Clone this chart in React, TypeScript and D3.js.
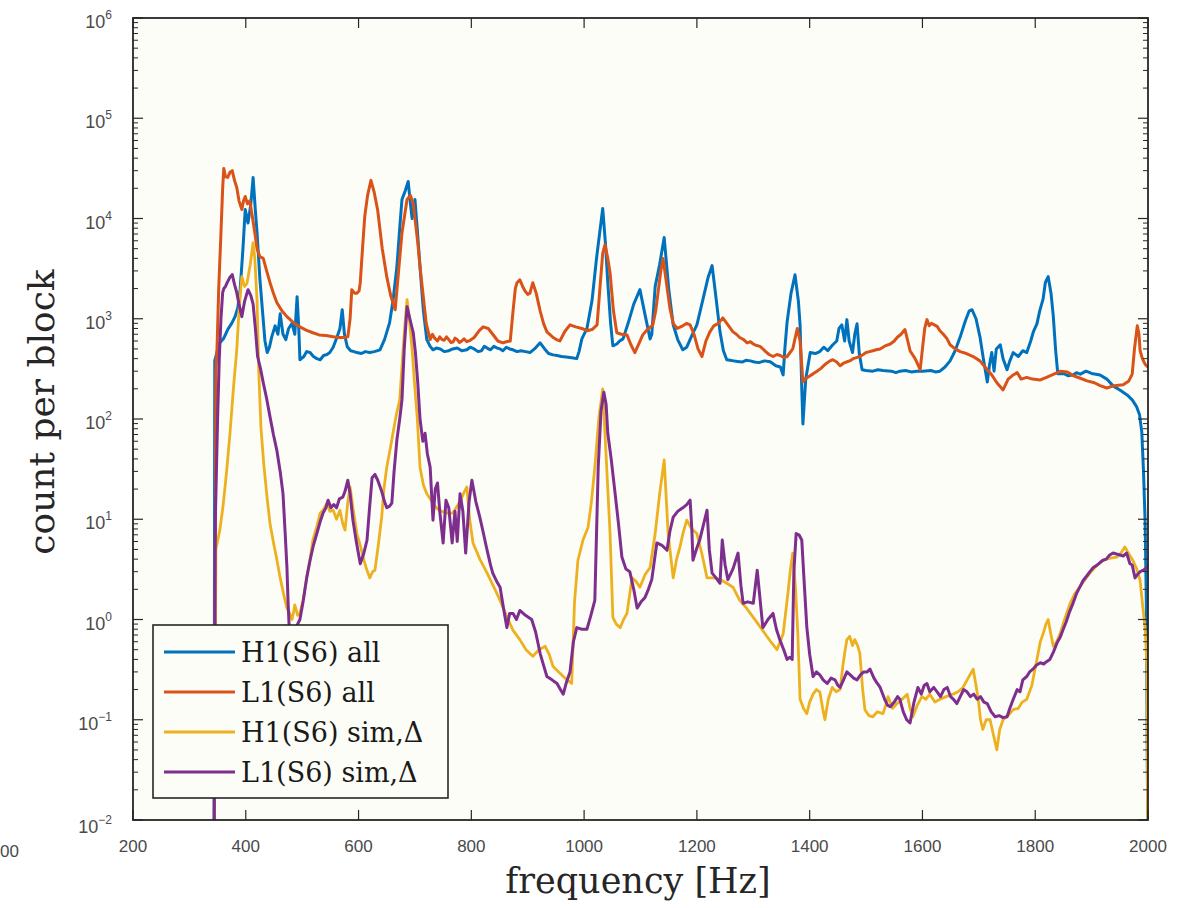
import React from "react";
import * as d3 from "d3";

// Count-per-block spectra, [frequency Hz, count]
const h1All: [number, number][] = [
  [343.6, 0.001], [345, 380], [350, 490], [354, 575], [361, 640], [368, 780], [375, 900], [381, 1050], [386, 1300], [390, 1950], [395, 5000], [399, 12300], [404, 9000], [409, 14000], [413, 25700], [417, 12000], [420, 7200], [425, 2500], [429, 1320], [434, 600], [438, 460], [442, 520], [446, 660], [452, 850], [457, 700], [461, 1120], [466, 700], [471, 620], [476, 800], [482, 900], [487, 700], [491, 1660], [494, 800], [496, 390], [503, 420], [508, 470], [514, 460], [520, 420], [526, 400], [532, 390], [538, 430], [544, 440], [549, 460], [555, 520], [562, 660], [567, 800], [571, 1230], [575, 700], [580, 525], [586, 480], [592, 470], [597, 460], [605, 450], [612, 470], [620, 460], [628, 470], [638, 490], [646, 620], [655, 910], [661, 1500], [668, 3300], [673, 8000], [677, 15500], [683, 19000], [688, 23400], [692, 14000], [695, 10000], [700, 15500], [704, 8000], [709, 3300], [715, 1200], [721, 620], [727, 530], [732, 490], [738, 510], [745, 500], [752, 470], [760, 480], [767, 500], [775, 510], [783, 480], [792, 490], [798, 520], [805, 500], [812, 470], [818, 480], [823, 530], [828, 510], [834, 490], [840, 530], [846, 510], [851, 500], [856, 480], [862, 520], [868, 500], [874, 490], [881, 470], [888, 480], [896, 470], [904, 460], [912, 500], [922, 575], [930, 500], [937, 450], [945, 436], [952, 430], [960, 420], [968, 415], [975, 410], [981, 405], [987, 400], [991, 470], [996, 630], [1005, 800], [1014, 1510], [1022, 4000], [1033, 12600], [1038, 5500], [1042, 2290], [1047, 900], [1051, 537], [1058, 560], [1063, 600], [1069, 630], [1078, 900], [1088, 1400], [1099, 1950], [1108, 1100], [1117, 630], [1120, 700], [1126, 2090], [1134, 3500], [1142, 6460], [1150, 2000], [1158, 870], [1166, 620], [1175, 490], [1182, 520], [1192, 700], [1200, 870], [1210, 1500], [1220, 2600], [1227, 3390], [1234, 1600], [1241, 740], [1247, 480], [1253, 390], [1259, 385], [1265, 380], [1272, 375], [1280, 370], [1287, 385], [1295, 380], [1302, 370], [1310, 365], [1320, 380], [1330, 372], [1340, 340], [1348, 330], [1353, 275], [1356, 500], [1360, 930], [1367, 1800], [1374, 2750], [1380, 1500], [1383, 870], [1386, 200], [1388, 89], [1393, 250], [1401, 460], [1410, 450], [1418, 470], [1425, 520], [1432, 480], [1441, 550], [1448, 600], [1452, 800], [1457, 870], [1462, 600], [1466, 980], [1470, 600], [1476, 460], [1480, 700], [1484, 890], [1488, 450], [1493, 310], [1500, 305], [1512, 300], [1521, 310], [1530, 305], [1545, 300], [1553, 290], [1560, 300], [1570, 305], [1580, 295], [1590, 300], [1600, 300], [1615, 305], [1623, 295], [1631, 300], [1640, 330], [1649, 380], [1658, 480], [1667, 660], [1676, 950], [1683, 1200], [1688, 1230], [1695, 1000], [1702, 660], [1708, 400], [1715, 234], [1719, 350], [1723, 460], [1727, 300], [1731, 500], [1738, 550], [1743, 400], [1750, 310], [1755, 380], [1761, 460], [1770, 420], [1778, 480], [1785, 460], [1792, 600], [1797, 750], [1803, 890], [1808, 1200], [1814, 1580], [1818, 2300], [1823, 2630], [1828, 1800], [1832, 1070], [1836, 500], [1840, 282], [1850, 285], [1858, 270], [1867, 275], [1873, 290], [1880, 280], [1890, 300], [1900, 285], [1915, 275], [1927, 250], [1938, 214], [1950, 195], [1963, 174], [1972, 155], [1980, 132], [1985, 110], [1989, 74], [1992, 30], [1995, 9.1], [1997, 1.5], [1998, 0.2], [2000, 0.003],
];

const l1All: [number, number][] = [
  [343.6, 0.001], [347, 300], [349, 500], [352, 2000], [356, 7200], [359, 20000], [361, 31600], [364, 26000], [368, 25700], [372, 29000], [376, 30000], [380, 24000], [384, 20400], [388, 15000], [393, 12300], [396, 15000], [399, 16600], [403, 14000], [407, 15000], [411, 11000], [416, 7200], [420, 5000], [425, 4170], [431, 4000], [437, 3000], [443, 2290], [449, 1800], [455, 1450], [464, 1200], [473, 1050], [484, 920], [496, 830], [507, 770], [519, 725], [530, 690], [542, 680], [555, 660], [565, 650], [575, 650], [581, 660], [585, 1000], [588, 1950], [593, 1800], [597, 1800], [601, 1900], [603, 2290], [607, 5000], [611, 10500], [616, 17000], [622, 24000], [628, 18000], [634, 12000], [642, 5000], [650, 2630], [657, 1700], [665, 1230], [671, 3000], [677, 7200], [686, 15500], [692, 17000], [697, 14000], [701, 9000], [705, 5750], [709, 3300], [714, 1820], [720, 900], [727, 620], [731, 700], [735, 640], [740, 600], [744, 660], [748, 620], [752, 610], [756, 660], [760, 620], [764, 580], [768, 590], [771, 640], [775, 620], [779, 580], [783, 600], [787, 630], [792, 590], [798, 610], [805, 650], [814, 760], [821, 830], [830, 800], [838, 700], [847, 600], [856, 575], [862, 590], [869, 600], [874, 1200], [878, 2000], [881, 2290], [886, 2450], [891, 2100], [895, 1900], [900, 1750], [904, 1800], [909, 2290], [915, 1800], [922, 1200], [928, 900], [934, 740], [940, 690], [945, 650], [951, 620], [957, 600], [966, 750], [975, 870], [985, 830], [996, 800], [1005, 760], [1014, 780], [1023, 870], [1028, 2000], [1033, 4500], [1037, 5500], [1042, 4000], [1046, 2880], [1052, 1200], [1058, 725], [1066, 700], [1076, 690], [1083, 550], [1090, 460], [1097, 560], [1104, 690], [1112, 780], [1122, 870], [1127, 1200], [1131, 1800], [1136, 3000], [1140, 4000], [1145, 2500], [1152, 1290], [1158, 900], [1165, 800], [1175, 850], [1182, 900], [1188, 870], [1195, 700], [1202, 500], [1209, 420], [1216, 600], [1223, 740], [1230, 850], [1238, 900], [1246, 1020], [1255, 870], [1264, 740], [1270, 700], [1276, 650], [1283, 620], [1289, 575], [1295, 590], [1300, 560], [1306, 540], [1312, 530], [1317, 500], [1322, 470], [1328, 440], [1335, 420], [1342, 440], [1348, 430], [1354, 410], [1360, 420], [1370, 500], [1378, 800], [1383, 600], [1388, 235], [1396, 260], [1406, 282], [1413, 300], [1420, 320], [1425, 340], [1430, 360], [1436, 380], [1441, 390], [1448, 370], [1454, 340], [1460, 360], [1465, 370], [1471, 380], [1477, 400], [1483, 410], [1489, 420], [1495, 440], [1500, 460], [1506, 470], [1512, 480], [1518, 490], [1525, 500], [1535, 540], [1543, 560], [1550, 600], [1555, 650], [1562, 700], [1569, 780], [1574, 600], [1578, 480], [1587, 400], [1596, 310], [1600, 500], [1604, 800], [1608, 980], [1612, 850], [1616, 900], [1621, 870], [1626, 840], [1631, 760], [1637, 700], [1643, 640], [1649, 550], [1658, 500], [1667, 470], [1678, 450], [1690, 420], [1702, 380], [1715, 310], [1722, 280], [1732, 230], [1743, 195], [1752, 250], [1761, 275], [1768, 290], [1775, 250], [1785, 260], [1795, 250], [1809, 245], [1820, 260], [1833, 280], [1845, 300], [1857, 295], [1868, 270], [1880, 255], [1892, 240], [1905, 230], [1915, 215], [1927, 204], [1940, 215], [1956, 220], [1966, 240], [1972, 280], [1976, 500], [1981, 850], [1984, 700], [1986, 480], [1990, 400], [1995, 350], [2000, 330],
];

const h1Sim: [number, number][] = [
  [343.6, 0.001], [347, 5], [354, 7.8], [360, 14], [366, 30], [372, 72], [378, 200], [384, 490], [388, 1200], [393, 2630], [398, 2100], [402, 2240], [408, 3500], [413, 5750], [416, 4000], [420, 1500], [423, 300], [427, 80], [432, 35], [438, 16], [443, 9], [450, 5.5], [455, 4], [461, 2.6], [467, 1.8], [473, 1.3], [478, 1.15], [482, 1.0], [485, 1.2], [487, 1.4], [492, 1.1], [496, 1.15], [502, 1.6], [508, 2.6], [514, 4], [519, 6.2], [526, 8.5], [532, 11.5], [538, 12.5], [544, 14.5], [549, 12], [555, 12.3], [561, 10], [567, 12.3], [572, 9], [576, 7.8], [581, 15], [585, 21], [591, 12], [597, 7.2], [603, 5.5], [608, 4.2], [614, 3.2], [620, 2.6], [625, 3.0], [629, 3.1], [635, 5.5], [641, 10.5], [645, 20], [650, 33], [656, 50], [661, 72], [667, 110], [673, 155], [679, 490], [683, 1000], [686, 1550], [690, 1000], [695, 490], [700, 200], [704, 105], [709, 33], [715, 22], [721, 18], [727, 16], [732, 14.5], [738, 13], [744, 12.3], [755, 11.5], [767, 11.5], [780, 15], [788, 19], [792, 21], [797, 10], [803, 5.8], [815, 4], [828, 2.9], [840, 2.1], [851, 1.55], [862, 1.1], [874, 0.78], [886, 0.63], [897, 0.5], [909, 0.43], [920, 0.5], [931, 0.54], [938, 0.45], [945, 0.34], [955, 0.3], [963, 0.27], [970, 0.25], [978, 0.23], [983, 1.5], [989, 3.9], [998, 6.2], [1007, 8.3], [1013, 15], [1019, 33], [1026, 100], [1033, 200], [1037, 72], [1042, 20], [1046, 7.2], [1051, 1.05], [1057, 0.9], [1064, 0.83], [1070, 1.0], [1076, 1.15], [1085, 2.6], [1092, 2.4], [1099, 2.1], [1108, 2.8], [1117, 3.3], [1126, 7.2], [1134, 18], [1142, 39], [1149, 7.2], [1158, 2.6], [1164, 4], [1170, 5.3], [1176, 7.5], [1182, 9.8], [1191, 8], [1200, 7.2], [1209, 4.5], [1218, 2.6], [1230, 2.6], [1241, 2.5], [1253, 2.3], [1264, 2.1], [1276, 1.55], [1288, 1.3], [1300, 1.05], [1312, 0.85], [1324, 0.68], [1333, 0.58], [1342, 0.5], [1353, 0.72], [1362, 1.95], [1366, 3.2], [1370, 4.6], [1375, 2], [1379, 0.72], [1383, 0.16], [1389, 0.13], [1395, 0.115], [1400, 0.15], [1406, 0.18], [1412, 0.2], [1418, 0.19], [1423, 0.13], [1427, 0.1], [1433, 0.16], [1440, 0.21], [1447, 0.19], [1454, 0.2], [1459, 0.35], [1463, 0.5], [1466, 0.63], [1471, 0.68], [1476, 0.55], [1480, 0.63], [1485, 0.55], [1489, 0.46], [1494, 0.2], [1498, 0.126], [1505, 0.11], [1512, 0.107], [1520, 0.12], [1530, 0.115], [1535, 0.14], [1539, 0.17], [1547, 0.13], [1555, 0.145], [1564, 0.16], [1573, 0.18], [1578, 0.13], [1583, 0.107], [1591, 0.14], [1599, 0.17], [1606, 0.16], [1613, 0.18], [1622, 0.15], [1631, 0.16], [1642, 0.17], [1654, 0.18], [1663, 0.19], [1672, 0.21], [1681, 0.26], [1690, 0.32], [1695, 0.22], [1699, 0.16], [1703, 0.1], [1707, 0.08], [1713, 0.1], [1720, 0.1], [1726, 0.07], [1732, 0.05], [1737, 0.08], [1743, 0.1], [1752, 0.11], [1761, 0.126], [1770, 0.13], [1777, 0.15], [1785, 0.16], [1794, 0.22], [1803, 0.4], [1809, 0.6], [1814, 0.72], [1819, 0.9], [1823, 1.0], [1827, 0.75], [1832, 0.54], [1838, 0.6], [1844, 0.72], [1852, 1.0], [1862, 1.45], [1870, 1.8], [1879, 2.1], [1888, 2.5], [1897, 2.9], [1908, 3.4], [1920, 3.9], [1933, 4.1], [1945, 4.2], [1952, 4.6], [1959, 5.3], [1966, 4.5], [1973, 3.9], [1980, 3.2], [1986, 2.45], [1991, 1.3], [1995, 0.8], [1998, 0.34], [2000, 0.001],
];

const l1Sim: [number, number][] = [
  [343.6, 0.001], [346, 10], [350, 100], [353, 400], [356, 1000], [359, 1820], [361, 2000], [364, 2100], [367, 2290], [372, 2600], [376, 2750], [380, 2200], [384, 1820], [388, 1400], [393, 1050], [398, 1500], [404, 1950], [409, 1700], [413, 1400], [417, 800], [421, 420], [426, 320], [431, 230], [437, 160], [443, 105], [449, 70], [455, 49], [461, 30], [466, 18], [470, 7], [473, 3.3], [475, 1.5], [477, 0.83], [480, 0.75], [484, 0.7], [488, 0.8], [492, 0.9], [496, 1.0], [502, 1.55], [508, 2.6], [514, 3.9], [520, 5.5], [526, 7.2], [532, 9.5], [537, 11.5], [542, 13], [546, 15.5], [551, 13], [556, 14], [561, 13], [566, 16], [572, 16.6], [576, 19], [581, 24.5], [585, 18], [590, 9.8], [596, 6], [603, 3.6], [609, 4.5], [615, 6.2], [619, 12], [624, 26], [629, 28], [634, 24.5], [641, 19], [646, 15], [650, 13], [655, 13.5], [659, 14.5], [663, 30], [668, 62], [673, 100], [677, 155], [681, 500], [686, 1320], [691, 1000], [697, 725], [701, 450], [705, 230], [709, 100], [714, 60], [718, 72], [722, 45], [727, 33], [732, 9.8], [736, 20], [740, 23], [744, 12], [750, 5.8], [755, 15.5], [760, 13], [766, 5.8], [771, 12], [775, 6], [780, 18], [785, 12], [790, 4.6], [796, 15], [801, 24.5], [808, 15], [815, 10.5], [822, 7], [828, 4.9], [834, 3.5], [838, 2.9], [845, 2.4], [851, 2.1], [857, 1.3], [863, 0.83], [868, 1.15], [874, 1.15], [880, 1.0], [886, 1.23], [896, 1.1], [907, 1.0], [914, 0.75], [922, 0.46], [928, 0.35], [934, 0.27], [943, 0.25], [952, 0.23], [958, 0.2], [963, 0.18], [969, 0.24], [975, 0.3], [981, 0.6], [987, 0.83], [996, 0.8], [1005, 0.8], [1012, 1.1], [1019, 1.55], [1025, 33], [1030, 120], [1035, 185], [1039, 140], [1042, 72], [1048, 40], [1055, 18], [1061, 9], [1067, 4.2], [1074, 3.2], [1081, 3.0], [1088, 2.0], [1094, 1.3], [1101, 1.5], [1108, 1.66], [1114, 2.0], [1120, 2.5], [1125, 4], [1129, 5.8], [1138, 5.5], [1147, 4.9], [1152, 7.5], [1158, 10.5], [1166, 12], [1175, 13], [1182, 14], [1188, 15.5], [1191, 8], [1193, 3.9], [1199, 5], [1205, 6.2], [1212, 9], [1218, 12.3], [1222, 5], [1227, 2.9], [1234, 2.6], [1241, 2.3], [1245, 6.2], [1250, 3.5], [1255, 2.5], [1264, 3.2], [1273, 4.6], [1278, 2.2], [1282, 1.45], [1290, 1.5], [1300, 1.45], [1307, 3.1], [1312, 1.6], [1317, 0.83], [1326, 1.0], [1335, 1.15], [1341, 0.8], [1347, 0.63], [1354, 0.5], [1360, 0.4], [1365, 0.42], [1369, 0.4], [1372, 3], [1376, 7.2], [1381, 7], [1386, 6.2], [1390, 2.5], [1395, 0.83], [1400, 0.45], [1406, 0.27], [1412, 0.3], [1418, 0.28], [1424, 0.25], [1431, 0.23], [1438, 0.26], [1445, 0.25], [1450, 0.22], [1454, 0.21], [1460, 0.25], [1466, 0.3], [1472, 0.28], [1478, 0.26], [1484, 0.25], [1490, 0.28], [1496, 0.3], [1502, 0.3], [1507, 0.32], [1514, 0.26], [1520, 0.23], [1525, 0.21], [1533, 0.16], [1538, 0.14], [1543, 0.135], [1550, 0.15], [1556, 0.17], [1560, 0.16], [1566, 0.12], [1572, 0.1], [1578, 0.093], [1585, 0.15], [1592, 0.21], [1598, 0.18], [1603, 0.22], [1608, 0.23], [1613, 0.19], [1620, 0.21], [1626, 0.19], [1632, 0.17], [1638, 0.2], [1644, 0.21], [1650, 0.17], [1655, 0.16], [1661, 0.145], [1667, 0.17], [1673, 0.2], [1679, 0.19], [1685, 0.17], [1691, 0.18], [1697, 0.16], [1703, 0.17], [1709, 0.15], [1715, 0.145], [1722, 0.12], [1729, 0.107], [1736, 0.11], [1743, 0.105], [1750, 0.107], [1755, 0.13], [1761, 0.16], [1768, 0.2], [1773, 0.19], [1778, 0.25], [1785, 0.27], [1790, 0.3], [1796, 0.32], [1802, 0.35], [1809, 0.37], [1815, 0.36], [1820, 0.38], [1826, 0.4], [1832, 0.47], [1839, 0.59], [1844, 0.66], [1849, 0.78], [1855, 0.95], [1861, 1.2], [1867, 1.45], [1873, 1.8], [1879, 2.1], [1885, 2.45], [1891, 2.7], [1897, 3.0], [1903, 3.3], [1910, 3.5], [1915, 3.7], [1920, 3.9], [1926, 4.0], [1932, 4.4], [1938, 4.6], [1944, 4.5], [1950, 4.4], [1956, 4.3], [1962, 4.6], [1968, 3.6], [1972, 3.5], [1977, 2.6], [1981, 2.8], [1986, 3.0], [1992, 3.1], [1998, 3.3], [2000, 3.4],
];

const seriesNames = ["H1(S6) all", "L1(S6) all", "H1(S6) sim,\u0394", "L1(S6) sim,\u0394"];
const seriesColors = ["#0072BD", "#D95319", "#EDB120", "#7E2F8E"];
const seriesWidths = [3, 3, 2.8, 3];

const xTicks = [200, 400, 600, 800, 1000, 1200, 1400, 1600, 1800, 2000];
const yDecades = [-2, -1, 0, 1, 2, 3, 4, 5, 6];

const W = 1197;
const H = 908;
const M = { left: 133, right: 1148, top: 18, bottom: 820 };

export default function App() {
  const x = d3.scaleLinear().domain([200, 2000]).range([M.left, M.right]);
  const y = d3.scaleLog().domain([1e-2, 1e6]).range([M.bottom, M.top]);

  const line = d3
    .line<[number, number]>()
    .x((d) => x(d[0]))
    .y((d) => y(Math.max(d[1], 1e-4)));

  const allSeries = [h1All, l1All, h1Sim, l1Sim];

  const minorTicks: number[] = [];
  for (const e of yDecades.slice(0, -1)) {
    for (let m = 2; m <= 9; m++) minorTicks.push(m * Math.pow(10, e));
  }

  const axisColor = "#262626";
  const labelColor = "#4a4a4a";
  const sans = "'Liberation Sans', Arial, sans-serif";
  const serif = "'DejaVu Serif', serif";
  const plotFill = "#fdfdf8";

  const legend = { x: 153, y: 625, w: 295, h: 173 };
  const rowY = [652, 692, 732, 772];

  return (
    <svg
      width={W}
      height={H}
      style={{ position: "absolute", left: 0, top: 0, background: "#ffffff" }}
    >
      <defs>
        <clipPath id="plot-area">
          <rect x={M.left} y={M.top} width={M.right - M.left} height={M.bottom - M.top} />
        </clipPath>
      </defs>

      <rect
        x={M.left}
        y={M.top}
        width={M.right - M.left}
        height={M.bottom - M.top}
        fill={plotFill}
      />

      <g clipPath="url(#plot-area)">
        {allSeries.map((s, i) => (
          <path
            key={i}
            d={line(s) || ""}
            fill="none"
            stroke={seriesColors[i]}
            strokeWidth={seriesWidths[i]}
            strokeLinejoin="round"
            strokeLinecap="round"
          />
        ))}
      </g>

      {/* frame */}
      <rect
        x={M.left}
        y={M.top}
        width={M.right - M.left}
        height={M.bottom - M.top}
        fill="none"
        stroke={axisColor}
        strokeWidth={1.8}
      />

      {/* x ticks, bottom and top */}
      {xTicks.map((t) => (
        <g key={"xt" + t}>
          <line x1={x(t)} x2={x(t)} y1={M.bottom} y2={M.bottom - 10} stroke={axisColor} strokeWidth={1.2} />
          <line x1={x(t)} x2={x(t)} y1={M.top} y2={M.top + 10} stroke={axisColor} strokeWidth={1.2} />
          <text
            x={x(t)}
            y={852}
            textAnchor="middle"
            fontFamily={sans}
            fontSize={17}
            fill={labelColor}
          >
            {t}
          </text>
        </g>
      ))}

      {/* y ticks, left and right */}
      {yDecades.map((e) => (
        <g key={"yt" + e}>
          <line x1={M.left} x2={M.left + 10} y1={y(Math.pow(10, e))} y2={y(Math.pow(10, e))} stroke={axisColor} strokeWidth={1.2} />
          <line x1={M.right} x2={M.right - 10} y1={y(Math.pow(10, e))} y2={y(Math.pow(10, e))} stroke={axisColor} strokeWidth={1.2} />
          <text
            x={112}
            y={y(Math.pow(10, e)) + (e === -2 ? 13 : 10)}
            textAnchor="end"
            fontFamily={sans}
            fontSize={18}
            fill={labelColor}
          >
            10
            <tspan dy={-9} fontSize={12}>
              {e < 0 ? "\u2212" + Math.abs(e) : String(e)}
            </tspan>
          </text>
        </g>
      ))}
      {minorTicks.map((v, i) => (
        <g key={"ym" + i}>
          <line x1={M.left} x2={M.left + 5} y1={y(v)} y2={y(v)} stroke={axisColor} strokeWidth={1} />
          <line x1={M.right} x2={M.right - 5} y1={y(v)} y2={y(v)} stroke={axisColor} strokeWidth={1} />
        </g>
      ))}

      {/* axis titles */}
      <text
        x={638}
        y={893}
        textAnchor="middle"
        fontFamily={serif}
        fontSize={35}
        fill="#262626"
      >
        frequency [Hz]
      </text>
      <text
        transform={`translate(54, 412) rotate(-90)`}
        textAnchor="middle"
        fontFamily={serif}
        fontSize={36}
        fill="#262626"
      >
        count per block
      </text>
      <text x={0} y={857} fontFamily={sans} fontSize={17} fill={labelColor}>
        00
      </text>

      {/* legend */}
      <rect
        x={legend.x}
        y={legend.y}
        width={legend.w}
        height={legend.h}
        fill={plotFill}
        stroke={axisColor}
        strokeWidth={1.6}
      />
      {seriesNames.map((name, i) => (
        <g key={"lg" + i}>
          <line
            x1={164}
            x2={235}
            y1={rowY[i]}
            y2={rowY[i]}
            stroke={seriesColors[i]}
            strokeWidth={seriesWidths[i]}
          />
          <text x={241} y={rowY[i] + 10} fontFamily={serif} fontSize={27} fill="#1a1a1a">
            {name}
          </text>
        </g>
      ))}
    </svg>
  );
}
